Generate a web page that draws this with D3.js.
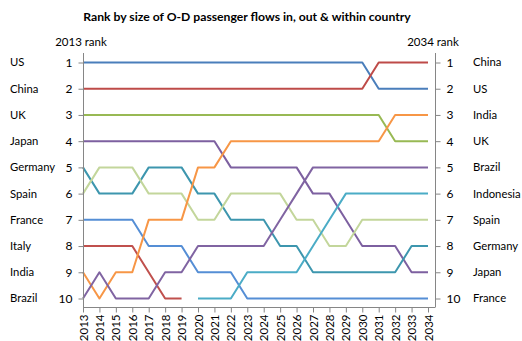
<!DOCTYPE html>
<html><head><meta charset="utf-8">
<script src="https://cdn.jsdelivr.net/npm/d3@7"></script>
<style>body{margin:0;background:#fff}svg{display:block}text{font-family:Lato,"Open Sans",sans-serif;fill:#000}</style>
</head><body><div id="chart"></div>
<script>
const years = [2013,2014,2015,2016,2017,2018,2019,2020,2021,2022,2023,2024,2025,2026,2027,2028,2029,2030,2031,2032,2033,2034];
const ranks = [1,2,3,4,5,6,7,8,9,10];
const leftLabels = ["US","China","UK","Japan","Germany","Spain","France","Italy","India","Brazil"];
const rightLabels = ["China","US","India","UK","Brazil","Indonesia","Spain","Germany","Japan","France"];
const seriesNames = ["US","China","UK","Japan","Germany","Spain","France","Italy","India","Brazil","Indonesia"];
const US       = [1,1,1,1,1,1,1,1,1,1,1,1,1,1,1,1,1,1,2,2,2,2];
const China    = [2,2,2,2,2,2,2,2,2,2,2,2,2,2,2,2,2,2,1,1,1,1];
const UK       = [3,3,3,3,3,3,3,3,3,3,3,3,3,3,3,3,3,3,3,4,4,4];
const Japan    = [4,4,4,4,4,4,4,4,4,5,5,5,5,5,6,6,7,8,8,8,9,9];
const Germany  = [5,6,6,6,5,5,5,6,6,7,7,7,8,8,9,9,9,9,9,9,8,8];
const Spain    = [6,5,5,5,6,6,6,7,7,6,6,6,6,7,7,8,8,7,7,7,7,7];
const France   = [7,7,7,7,8,8,8,9,9,9,10,10,10,10,10,10,10,10,10,10,10,10];
const Italy    = [8,8,8,8,9,10,10,null,null,null,null,null,null,null,null,null,null,null,null,null,null,null];
const India    = [9,10,9,9,7,7,7,5,5,4,4,4,4,4,4,4,4,4,4,3,3,3];
const Brazil   = [10,9,10,10,10,9,9,8,8,8,8,8,7,6,5,5,5,5,5,5,5,5];
const Indonesia= [null,null,null,null,null,null,null,10,10,10,9,9,9,9,8,7,6,6,6,6,6,6];
const seriesValues = [US,China,UK,Japan,Germany,Spain,France,Italy,India,Brazil,Indonesia];
const colors = ["#4A7EBB","#BE4B48","#98B954","#7D60A0","#3D96AE","#C3D69B","#558ED5","#C0504D","#F79646","#8064A2","#4BACC6"];

const W=522,H=341;
const svg=d3.select("#chart").append("svg").attr("width",W).attr("height",H);
const x=d3.scalePoint().domain(years).range([83,428]);
const y=d3.scaleLinear().domain([1,10]).range([62.5,298.5]);
const axisColor="#868686";

svg.append("text").attr("x",247).attr("y",21).attr("text-anchor","middle")
  .style("font-weight","bold").style("font-size","12.2px").text("Rank by size of O-D passenger flows in, out & within country");

// lines
const line=d3.line().defined(d=>d!=null).x((d,i)=>x(years[i])).y(d=>y(d));
seriesValues.forEach((vals,k)=>{
  svg.append("path").datum(vals).attr("d",line).attr("fill","none")
    .attr("stroke",colors[k]).attr("stroke-width",2).attr("stroke-linejoin","round");
});

// left axis
const yTop=53,yBot=307;
svg.append("line").attr("x1",83.5).attr("x2",83.5).attr("y1",yTop).attr("y2",yBot).attr("stroke",axisColor);
const leftAxis=d3.axisLeft(y).tickValues(ranks).tickSize(5).tickPadding(6).tickFormat(d3.format("d"));
const gLa=svg.append("g").attr("transform","translate(83.5,0)").call(leftAxis);
gLa.select(".domain").remove();
gLa.selectAll(".tick line").attr("stroke",axisColor);
gLa.selectAll(".tick text").style("font-size","12px").attr("fill","#000").style("font-family","Lato,sans-serif");

// right axis
svg.append("line").attr("x1",435.5).attr("x2",435.5).attr("y1",yTop).attr("y2",yBot).attr("stroke",axisColor);
const rightAxis=d3.axisRight(y).tickValues(ranks).tickSize(5).tickPadding(6).tickFormat(d3.format("d"));
const gRa=svg.append("g").attr("transform","translate(435.5,0)").call(rightAxis);
gRa.select(".domain").remove();
gRa.selectAll(".tick line").attr("stroke",axisColor);
gRa.selectAll(".tick text").style("font-size","12px").attr("fill","#000").style("font-family","Lato,sans-serif");

// bottom axis
svg.append("line").attr("x1",83).attr("x2",435.5).attr("y1",yBot+0.5).attr("y2",yBot+0.5).attr("stroke",axisColor);
const bottomAxis=d3.axisBottom(x).tickSize(5).tickPadding(3);
const gB=svg.append("g").attr("transform",`translate(0,${yBot+0.5})`).call(bottomAxis);
gB.select(".domain").remove();
gB.selectAll(".tick line").attr("stroke",axisColor);
gB.selectAll(".tick text").style("font-size","11.5px").attr("fill","#000").style("font-family","Lato,sans-serif")
  .attr("transform","rotate(-90)").attr("text-anchor","end").attr("x",-7).attr("y",0).attr("dy","0.35em");

// country labels
svg.selectAll(".ll").data(leftLabels).enter().append("text")
  .attr("x",10).attr("y",(d,i)=>y(ranks[i])).attr("dy","0.35em").style("font-size","11.3px").text(d=>d);
svg.selectAll(".rl").data(rightLabels).enter().append("text")
  .attr("x",473).attr("y",(d,i)=>y(ranks[i])).attr("dy","0.35em").style("font-size","11.3px").text(d=>d);

svg.append("text").attr("x",81).attr("y",46).attr("text-anchor","middle").style("font-size","11.5px").text("2013 rank");
svg.append("text").attr("x",433).attr("y",46).attr("text-anchor","middle").style("font-size","11.5px").text("2034 rank");
</script></body></html>
